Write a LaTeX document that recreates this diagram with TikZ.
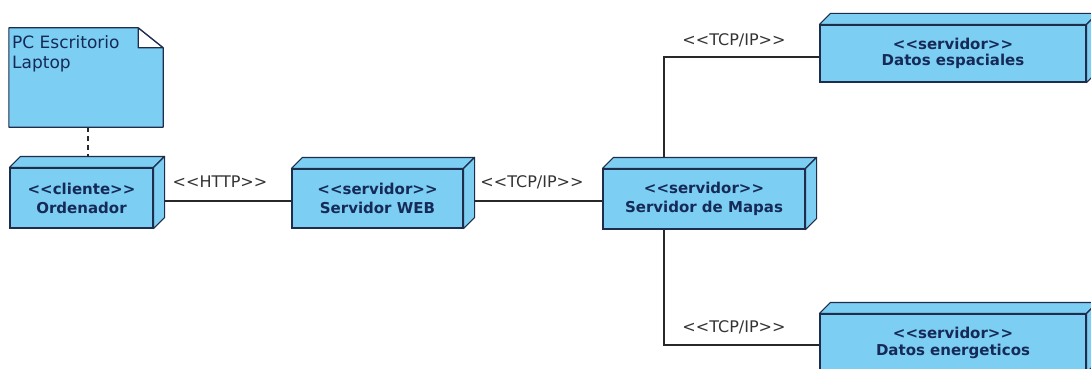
\documentclass[tikz,border=0pt]{standalone}
\usepackage{fontspec}
\setmainfont{DejaVu Sans}[Ligatures=TeXOff]
\definecolor{devblue}{RGB}{124,206,242}
\definecolor{devline}{RGB}{30,45,75}
\definecolor{devtext}{RGB}{22,42,88}
\definecolor{connline}{RGB}{40,40,40}
\tikzset{
  device/.style={draw=devline, line width=1.1pt, fill=devblue, inner sep=0pt,
    text=devtext, align=center,
    font=\fontsize{15}{19}\selectfont\bfseries},
  devside/.style={draw=devline, line width=1.1pt, fill=devblue, line join=round},
  conn/.style={draw=connline, line width=1.1pt},
  linklabel/.style={font=\fontsize{16}{19}\selectfont, text=black!80, inner sep=0pt},
  notetext/.style={font=\fontsize{17}{20}\selectfont, text=devtext, align=left, inner sep=0pt, anchor=north west},
}
\begin{document}
\begin{tikzpicture}[x=1pt,y=-1pt]
\clip (0,0) rectangle (1091,369);
\fill[white] (0,0) rectangle (1091,369);

% note attached to the client, with folded corner
\node[minimum width=154pt, minimum height=99pt, inner sep=0pt] (note) at (86,77.5) {};
\fill[devblue] (note.north west) -- ([xshift=-25]note.north east) -- ([shift={(0,20)}]note.north east) -- (note.south east) -- (note.south west) -- cycle;
\filldraw[fill=white, draw=devline, line width=1.1pt, line join=round]
  ([xshift=-25]note.north east) -- ([shift={(-25,20)}]note.north east) -- ([shift={(0,20)}]note.north east) -- cycle;
\draw[devline, line width=1.1pt, line join=round]
  (note.north west) -- ([xshift=-25]note.north east) -- ([shift={(0,20)}]note.north east) -- (note.south east) -- (note.south west) -- cycle;
\node[notetext] (notelbl) at (12,35) {PC Escritorio\\Laptop};

% devices (front faces)
\node[device, minimum width=143pt, minimum height=60pt] (ord) at (81.5,198) {<<cliente>>\\Ordenador};
\node[device, minimum width=171pt, minimum height=59pt] (web) at (377.5,198.5) {<<servidor>>\\Servidor WEB};
\node[device, minimum width=202pt, minimum height=60pt] (map) at (704,199) {<<servidor>>\\Servidor de Mapas};
\node[device, minimum width=266pt, minimum height=57pt, font=\fontsize{15}{16.5}\selectfont\bfseries] (esp) at (953,53.5) {<<servidor>>\\Datos espaciales};
\node[device, minimum width=266pt, minimum height=58pt, font=\fontsize{15}{16.5}\selectfont\bfseries] (ene) at (953,343) {<<servidor>>\\Datos energeticos};

% 3D extrusion (top and right faces)
\foreach \n in {ord,web,map,esp,ene}{
  \filldraw[devside] (\n.north west) -- ++(11,-11) -- ([shift={(11,-11)}]\n.north east) -- (\n.north east) -- cycle;
  \filldraw[devside] (\n.north east) -- ([shift={(11,-11)}]\n.north east) -- ([shift={(11,-11)}]\n.south east) -- (\n.south east) -- cycle;
}

% connectors
\draw[conn, dashed, dash pattern=on 5pt off 4pt] ([xshift=2]note.south) -- ([shift={(6.5,-10)}]ord.north);
\draw[conn] ([shift={(11,3)}]ord.east) -- ([shift={(0,2.5)}]web.west);
\draw[conn] ([shift={(11,2.5)}]web.east) -- ([shift={(0,2)}]map.west);
\draw[conn] ([shift={(-40,-11)}]map.north) |- ([shift={(0,3.5)}]esp.west);
\draw[conn] ([xshift=-40]map.south) |- ([shift={(0,2)}]ene.west);

% connector labels
\node[linklabel] (lhttp) at (220,182) {<<HTTP>>};
\node[linklabel] (ltcpa) at (532,182) {<<TCP/IP>>};
\node[linklabel] (ltcpb) at (734,40) {<<TCP/IP>>};
\node[linklabel] (ltcpc) at (734,327) {<<TCP/IP>>};
\end{tikzpicture}
\end{document}
